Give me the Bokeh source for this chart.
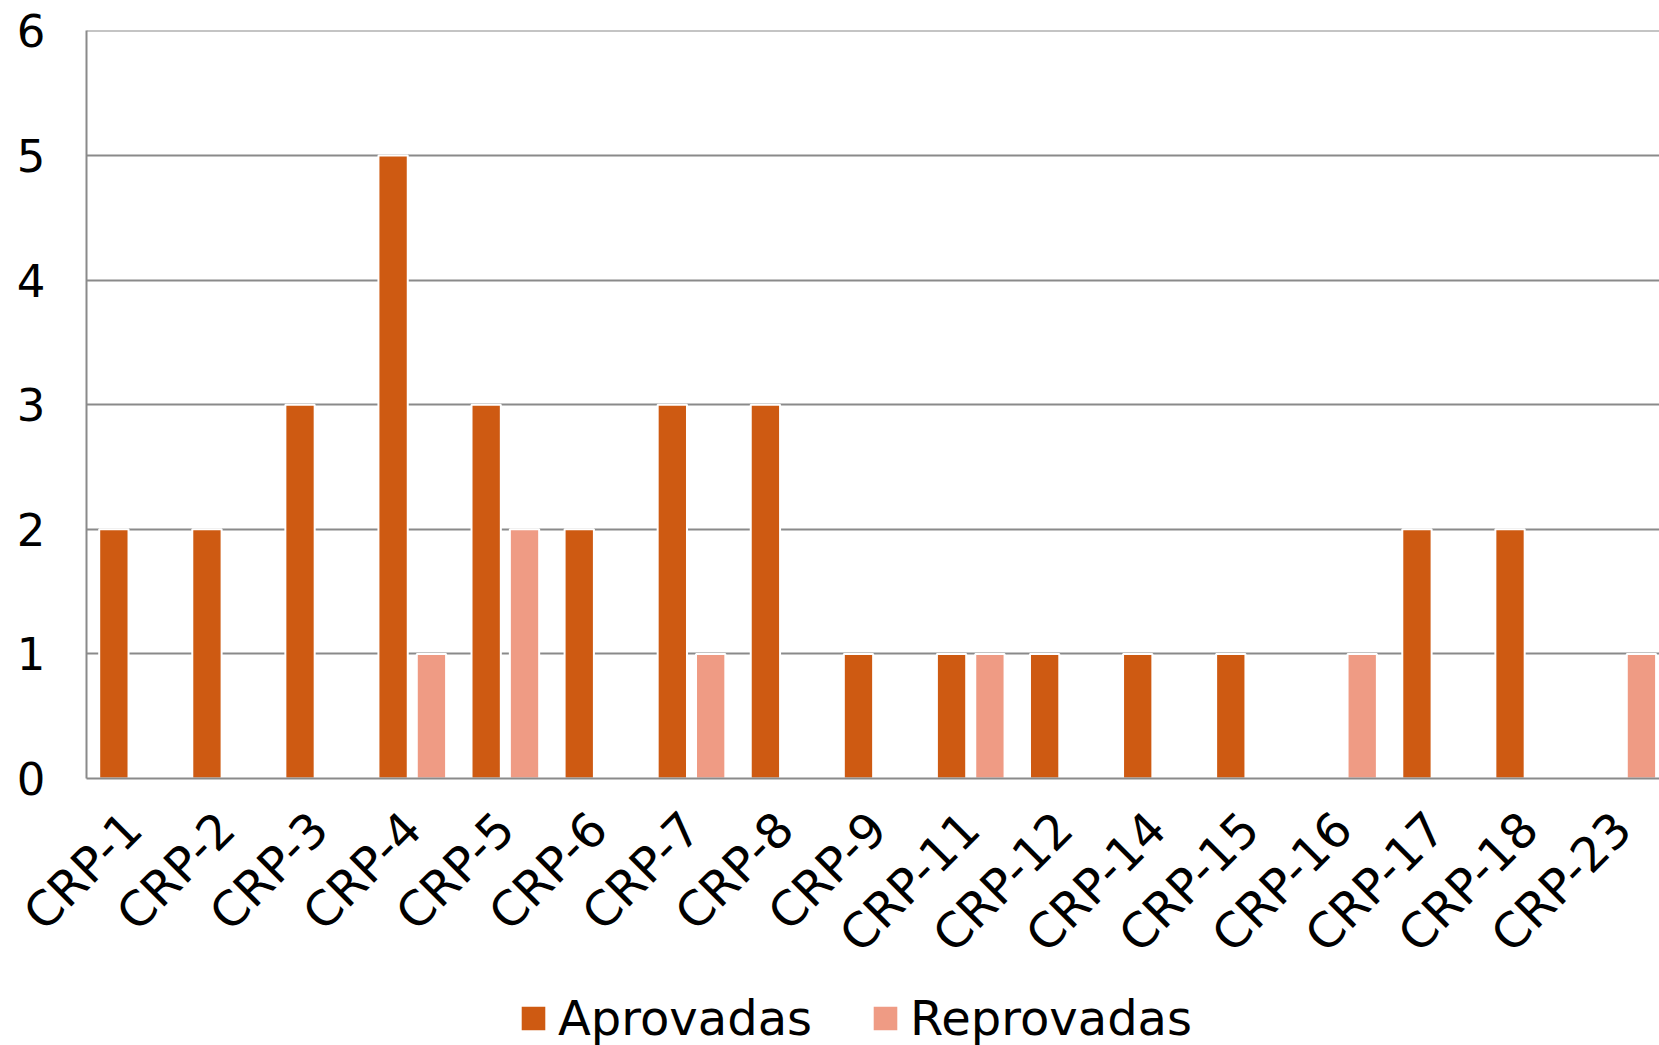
from bokeh.plotting import figure
from bokeh.layouts import column
from bokeh.models import (ColumnDataSource, Range1d, FixedTicker, Legend, LegendItem)
from bokeh.embed import file_html
from bokeh.resources import INLINE

categories = ["CRP-1", "CRP-2", "CRP-3", "CRP-4", "CRP-5", "CRP-6", "CRP-7", "CRP-8",
              "CRP-9", "CRP-11", "CRP-12", "CRP-14", "CRP-15", "CRP-16", "CRP-17",
              "CRP-18", "CRP-23"]
aprovadas = [2, 2, 3, 5, 3, 2, 3, 3, 1, 1, 1, 1, 1, 0, 2, 2, 0]
reprovadas = [0, 0, 0, 1, 2, 0, 1, 0, 0, 1, 0, 0, 0, 1, 0, 0, 1]
y_ticks = [0, 1, 2, 3, 4, 5, 6]
series_names = ["Aprovadas", "Reprovadas"]

C_APR = "#CE5A12"
C_REP = "#EF9B84"
GRID = "#8A8A8A"
FONT = "DejaVu Sans"

idx = list(range(len(categories)))
OFF = 0.206
BW = 0.315

src = ColumnDataSource(dict(
    x_apr=[i - OFF for i in idx],
    x_rep=[i + OFF for i in idx],
    apr=aprovadas,
    rep=reprovadas,
))

W = 1659
H_MAIN = 990
H_LEG = 55

p = figure(width=W, height=H_MAIN, output_backend="svg", toolbar_location=None,
           x_range=Range1d(-0.5, len(categories) - 0.6),
           y_range=Range1d(0, 6.004),
           min_border_left=86, min_border_right=0, min_border_top=30,
           min_border_bottom=212)
p.outline_line_color = None
p.background_fill_color = "white"
p.border_fill_color = "white"

bar_kw = dict(width=BW, source=src, line_color="white", line_width=2)
p.vbar(x="x_apr", top="apr", fill_color=C_APR, **bar_kw)
p.vbar(x="x_rep", top="rep", fill_color=C_REP, **bar_kw)

# axes
p.xaxis.ticker = FixedTicker(ticks=idx)
p.xaxis.major_label_overrides = {i: c for i, c in zip(idx, categories)}
p.xaxis.major_label_orientation = 0.785398
p.xaxis.major_tick_line_color = None
p.xaxis.minor_tick_line_color = None
p.xaxis.axis_line_color = GRID
p.xaxis.axis_line_width = 2
p.xaxis.major_label_text_font = FONT
p.xaxis.major_label_text_font_size = "48px"
p.xaxis.major_label_text_color = "black"
p.xaxis.major_label_standoff = 36

p.yaxis.ticker = FixedTicker(ticks=y_ticks)
p.yaxis.major_tick_line_color = None
p.yaxis.minor_tick_line_color = None
p.yaxis.axis_line_color = GRID
p.yaxis.axis_line_width = 2
p.yaxis.major_label_text_font = FONT
p.yaxis.major_label_text_font_size = "45px"
p.yaxis.major_label_text_color = "black"
p.yaxis.major_label_standoff = 35

p.xgrid.grid_line_color = None
p.ygrid.ticker = FixedTicker(ticks=y_ticks)
p.ygrid.grid_line_color = GRID
p.ygrid.grid_line_width = 2

# legend strip (separate figure; its bars lie outside its visible range)
lg = figure(width=W, height=H_LEG, output_backend="svg", toolbar_location=None,
            x_range=Range1d(-0.5, len(categories) - 0.6), y_range=Range1d(100, 101),
            x_axis_location=None, y_axis_location=None,
            min_border_left=0, min_border_right=0, min_border_top=0,
            min_border_bottom=0)
lg.outline_line_color = None
lg.xgrid.visible = False
lg.ygrid.visible = False
g1 = lg.vbar(x="x_apr", top="apr", fill_color=C_APR, **bar_kw)
g2 = lg.vbar(x="x_rep", top="rep", fill_color=C_REP, **bar_kw)

legend = Legend(items=[LegendItem(label=series_names[0], renderers=[g1]),
                       LegendItem(label=series_names[1], renderers=[g2])],
                orientation="horizontal", location=(431, -1),
                label_text_font=FONT, label_text_font_size="48px",
                label_text_color="black",
                glyph_width=32, glyph_height=32, label_standoff=9,
                spacing=57, padding=0, margin=0,
                border_line_color=None, background_fill_alpha=0)
lg.add_layout(legend, "center")

layout = column(p, lg, spacing=0)
open("out.html", "w").write(file_html(layout, INLINE))
